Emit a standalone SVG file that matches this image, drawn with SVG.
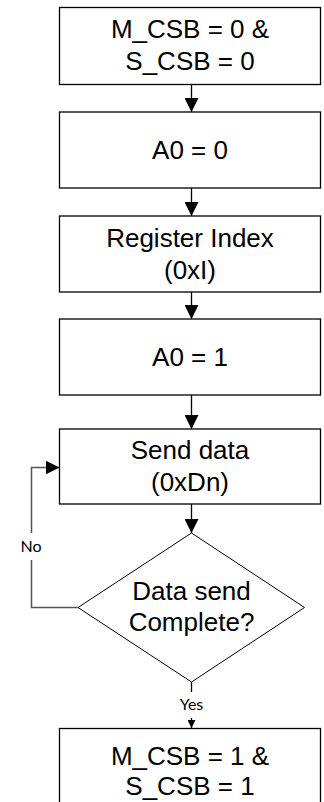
<svg xmlns="http://www.w3.org/2000/svg" width="324" height="802" viewBox="0 0 324 802">
  <style>
    .box { fill: #fff; stroke: #000; stroke-width: 1.3; }
    .txt { font-family: "Liberation Sans", Arial, sans-serif; font-size: 26px; fill: #000; text-anchor: middle; }
    .lbl { font-family: Lato, "Open Sans", sans-serif; font-size: 16px; fill: #000; text-anchor: middle; }
    .wire { fill: none; stroke: #000; stroke-width: 1.3; }
    .loop { fill: none; stroke: #555; stroke-width: 1.5; }
  </style>
  <defs>
    <marker id="arrow" viewBox="0 0 14 14" refX="14" refY="7" markerWidth="14" markerHeight="14" markerUnits="userSpaceOnUse" orient="auto">
      <path d="M0,0 L14,7 L0,14 Z" fill="#000"/>
    </marker>
    <marker id="arrowSmall" viewBox="0 0 8 8" refX="8" refY="4" markerWidth="8" markerHeight="8" markerUnits="userSpaceOnUse" orient="auto">
      <path d="M0,0 L8,4 L0,8 Z" fill="#000"/>
    </marker>
  </defs>

  <!-- connectors -->
  <g id="connectors">
    <line class="wire" x1="191.5" y1="84" x2="191.5" y2="112" marker-end="url(#arrow)"/>
    <line class="wire" x1="191.5" y1="188" x2="191.5" y2="216" marker-end="url(#arrow)"/>
    <line class="wire" x1="191.5" y1="292" x2="191.5" y2="319" marker-end="url(#arrow)"/>
    <line class="wire" x1="191.5" y1="395" x2="191.5" y2="429" marker-end="url(#arrow)"/>
    <line class="wire" x1="191.5" y1="504" x2="191.5" y2="533" marker-end="url(#arrow)"/>
    <!-- Yes branch -->
    <line class="wire" x1="191.5" y1="682" x2="191.5" y2="692"/>
    <line class="wire" x1="191.5" y1="718" x2="191.5" y2="728" marker-end="url(#arrowSmall)"/>
    <text class="lbl" x="191.5" y="710">Yes</text>
    <!-- No branch loops back -->
    <polyline class="loop" points="78,607.5 31.5,607.5 31.5,560"/>
    <polyline class="loop" points="31.5,533 31.5,467.5 59.5,467.5" marker-end="url(#arrow)"/>
    <text class="lbl" x="31" y="552">No</text>
  </g>

  <g id="csb-low">
    <rect class="box" x="59.5" y="7.5" width="261" height="77"/>
    <text class="txt" x="190" y="38">M_CSB = 0 &amp;</text>
    <text class="txt" x="190" y="70">S_CSB = 0</text>
  </g>

  <g id="a0-low">
    <rect class="box" x="59.5" y="112" width="261" height="76"/>
    <text class="txt" x="190" y="159">A0 = 0</text>
  </g>

  <g id="register-index">
    <rect class="box" x="59.5" y="216" width="261" height="76"/>
    <text class="txt" x="190" y="247">Register Index</text>
    <text class="txt" x="190" y="279">(0xI)</text>
  </g>

  <g id="a0-high">
    <rect class="box" x="59.5" y="319" width="261" height="76"/>
    <text class="txt" x="190" y="366">A0 = 1</text>
  </g>

  <g id="send-data">
    <rect class="box" x="59.5" y="429" width="261" height="75"/>
    <text class="txt" x="190" y="459">Send data</text>
    <text class="txt" x="190" y="491">(0xDn)</text>
  </g>

  <g id="data-complete">
    <polygon class="box" points="191.5,533 304.5,607.5 191.5,682 78,607.5" style="stroke-width:1"/>
    <text class="txt" x="191.5" y="600">Data send</text>
    <text class="txt" x="191.5" y="631">Complete?</text>
  </g>

  <g id="csb-high">
    <rect class="box" x="59.5" y="728.5" width="261" height="90"/>
    <text class="txt" x="190" y="765">M_CSB = 1 &amp;</text>
    <text class="txt" x="190" y="795">S_CSB = 1</text>
  </g>
</svg>
